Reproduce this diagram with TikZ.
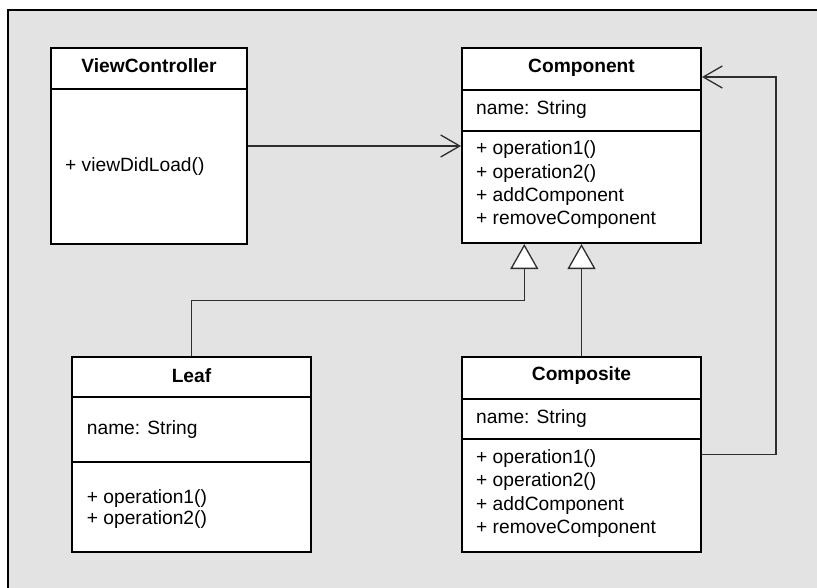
\documentclass[tikz,border=0pt]{standalone}
\usepackage{fontspec}
\setmainfont{Liberation Sans}
\usetikzlibrary{arrows.meta}
\definecolor{canvas}{HTML}{E3E3E3}
\definecolor{wire}{HTML}{2E2E2E}
\begin{document}
\begin{tikzpicture}[x=1pt,y=-1pt,
  umlclass/.style={draw=black, fill=white, line width=2pt, rectangle, inner sep=0pt},
  divider/.style={draw=black, line width=2pt},
  classname/.style={font=\fontsize{19.2}{23}\selectfont\bfseries, anchor=base, inner sep=0pt},
  member/.style={font=\fontsize{19.2}{23}\selectfont, anchor=base west, inner sep=0pt},
  assoc/.style={draw=wire, line width=1.3pt, -{Straight Barb[length=19pt,width=22pt]}},
  generalize/.style={draw=wire, line width=1.3pt, -{Triangle[open,fill=white,length=25pt,width=28pt]}},
]
\useasboundingbox (0,0) rectangle (817,588);

% canvas with its top and left border
\fill[canvas] (8,10) rectangle (817,588);
\draw[line width=2pt] (8,588) -- (8,10) -- (817,10);

% class boxes
\node[umlclass, minimum width=196pt, minimum height=196pt] (vc) at (149,146) {};
\node[umlclass, minimum width=239pt, minimum height=194.7pt] (comp) at (581.5,145.7) {};
\node[umlclass, minimum width=239pt, minimum height=194.4pt] (leaf) at (191.5,454.5) {};
\node[umlclass, minimum width=239pt, minimum height=195pt] (compo) at (581.5,454.2) {};

% compartment dividers
\draw[divider] (vc.west |- 0,89) -- (vc.east |- 0,89);
\draw[divider] (comp.west |- 0,90) -- (comp.east |- 0,90);
\draw[divider] (comp.west |- 0,130.7) -- (comp.east |- 0,130.7);
\draw[divider] (leaf.west |- 0,397.3) -- (leaf.east |- 0,397.3);
\draw[divider] (leaf.west |- 0,462) -- (leaf.east |- 0,462);
\draw[divider] (compo.west |- 0,398.5) -- (compo.east |- 0,398.5);
\draw[divider] (compo.west |- 0,439.2) -- (compo.east |- 0,439.2);

% ViewController
\node[classname] (vc-title) at (149,72.3) {ViewController};
\node[member] (vc-op1) at (65,171.5) {+ viewDidLoad()};

% Component
\node[classname] (comp-title) at (581.5,72.3) {Component};
\node[member] (comp-attr) at (476,115) {name: String};
\node[member] (comp-op1) at (476,155) {+ operation1()};
\node[member] (comp-op2) at (476,178.3) {+ operation2()};
\node[member] (comp-op3) at (476,201.6) {+ addComponent};
\node[member] (comp-op4) at (476,224.9) {+ removeComponent};

% Leaf
\node[classname] (leaf-title) at (191.5,382) {Leaf};
\node[member] (leaf-attr) at (86.7,434.5) {name: String};
\node[member] (leaf-op1) at (86.7,503.5) {+ operation1()};
\node[member] (leaf-op2) at (86.7,524.2) {+ operation2()};

% Composite
\node[classname] (compo-title) at (581.5,380.7) {Composite};
\node[member] (compo-attr) at (476,423.4) {name: String};
\node[member] (compo-op1) at (476,463.4) {+ operation1()};
\node[member] (compo-op2) at (476,486.7) {+ operation2()};
\node[member] (compo-op3) at (476,510) {+ addComponent};
\node[member] (compo-op4) at (476,533.3) {+ removeComponent};

% relations
\coordinate (leafbend) at (524.3,300.7);
\coordinate (looptop) at (776,77);
\draw[assoc] (vc.east) -- (vc.east -| comp.west);
\draw[generalize] (leaf.north) |- (leafbend) -- (leafbend |- comp.south);
\draw[generalize] (compo.north) -- (comp.south);
\draw[assoc] (compo.east) -| (looptop) -- (looptop -| comp.east);
\end{tikzpicture}
\end{document}
